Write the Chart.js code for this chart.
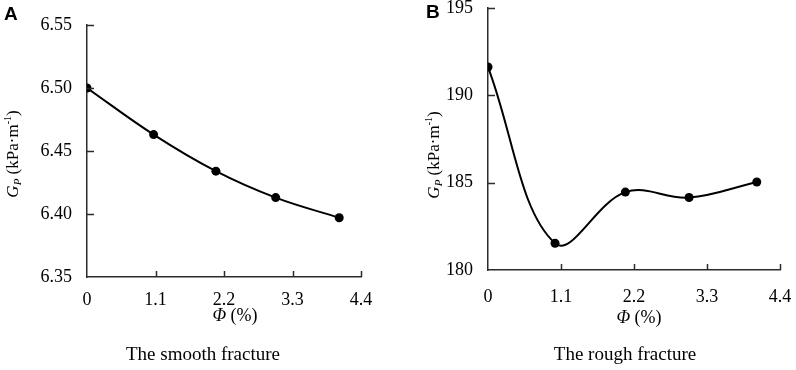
<!DOCTYPE html>
<html>
<head>
<meta charset="utf-8">
<script src="https://cdn.jsdelivr.net/npm/chart.js@4.4.1/dist/chart.umd.min.js"></script>
<style>
  body { margin: 0; background: #fff; }
  .panel { position: absolute; top: 0; width: 398px; height: 370px; }
</style>
</head>
<body>
<div class="panel" style="left:0"><canvas id="chartA" width="398" height="370"></canvas></div>
<div class="panel" style="left:398px"><canvas id="chartB" width="398" height="370"></canvas></div>
<script>
// x axis (porosity, %)
const xTicks = [0, 1.1, 2.2, 3.3, 4.4];

// A: smooth fracture
const smoothX = [0, 1.07, 2.07, 3.03, 4.05];
const smoothGp = [6.500, 6.463, 6.434, 6.413, 6.397];
const smoothTicks = [6.35, 6.40, 6.45, 6.50, 6.55];

// B: rough fracture
const roughX = [0, 1.01, 2.07, 3.03, 4.05];
const roughGp = [191.62, 181.53, 184.46, 184.15, 185.04];
const roughTicks = [180, 185, 190, 195];

const SERIF = "'Liberation Serif', 'Times New Roman', serif";
const AXIS = '#2b2b2b';

function drawRich(ctx, segs, cx, cy, rotate) {
    ctx.save();
    ctx.translate(cx, cy);
    if (rotate) ctx.rotate(-Math.PI / 2);
    ctx.textBaseline = 'alphabetic';
    ctx.textAlign = 'left';
    let total = 0;
    segs.forEach(s => { ctx.font = s.font; total += ctx.measureText(s.t).width; });
    let x = -total / 2;
    segs.forEach(s => {
        ctx.font = s.font;
        ctx.fillText(s.t, x, 6 + (s.dy || 0));
        x += ctx.measureText(s.t).width;
    });
    ctx.restore();
}

const panelText = {
    id: 'panelText',
    afterDraw(chart, args, o) {
        const ctx = chart.ctx;
        const area = chart.chartArea;
        ctx.save();
        ctx.fillStyle = '#000';

        // inner tick marks
        ctx.strokeStyle = AXIS;
        ctx.lineWidth = 1.5;
        const xs = chart.scales.x, ys = chart.scales.y;
        xs.ticks.forEach(t => {
            if (t.value === xs.min) return;
            const px = Math.round(xs.getPixelForValue(t.value)) + 0.5;
            ctx.beginPath(); ctx.moveTo(px, area.bottom); ctx.lineTo(px, area.bottom - 6); ctx.stroke();
        });
        ys.ticks.forEach(t => {
            if (t.value === ys.min) return;
            const py = Math.round(ys.getPixelForValue(t.value)) + 0.5;
            ctx.beginPath(); ctx.moveTo(area.left, py); ctx.lineTo(area.left + 7, py); ctx.stroke();
        });

        // panel letter
        ctx.font = "bold 19px 'Liberation Sans', Arial, sans-serif";
        ctx.textBaseline = 'top';
        ctx.fillText(o.letter, o.letterX, o.letterY);

        // y title
        drawRich(ctx, [
            { t: 'G', font: 'italic 17px ' + SERIF },
            { t: 'P', font: 'italic 11px ' + SERIF, dy: 3 },
            { t: ' (kPa·m', font: '17px ' + SERIF },
            { t: '-1', font: '10px ' + SERIF, dy: -7 },
            { t: ')', font: '17px ' + SERIF }
        ], o.yTitleX, o.yTitleY, true);

        // x title
        drawRich(ctx, [
            { t: 'Φ', font: 'italic 18px ' + SERIF },
            { t: ' (%)', font: '18px ' + SERIF }
        ], o.xTitleX, o.xTitleY, false);

        // caption
        drawRich(ctx, [{ t: o.caption, font: '19px ' + SERIF }], o.capX, o.capY, false);
        ctx.restore();
    }
};

function makeChart(id, xs, ys, yTicks, yDec, yMin, yMax, pad, xHeight, yWidth, xPad, text) {
    const ctx = document.getElementById(id).getContext('2d');
    return new Chart(ctx, {
        type: 'line',
        data: {
            datasets: [{
                data: xs.map((x, i) => ({ x: x, y: ys[i] })),
                borderColor: '#000',
                backgroundColor: '#000',
                borderWidth: 2,
                pointRadius: 4.5,
                pointBorderWidth: 0,
                tension: 0.38,
                fill: false
            }]
        },
        options: {
            responsive: false,
            animation: false,
            layout: { padding: pad },
            plugins: {
                legend: { display: false },
                tooltip: { enabled: false },
                panelText: text
            },
            scales: {
                x: {
                    type: 'linear',
                    min: 0,
                    max: 4.4,
                    afterBuildTicks: axis => { axis.ticks = xTicks.map(v => ({ value: v })); },
                    afterFit: s => { s.height = xHeight; s.paddingLeft = 0; s.paddingRight = 0; },
                    grid: { display: false },
                    border: { display: true, color: AXIS, width: 1.5 },
                    ticks: {
                        color: '#000',
                        padding: xPad,
                        maxRotation: 0,
                        font: { family: SERIF, size: 18 },
                        callback: v => v === 0 ? '0' : v.toFixed(1)
                    }
                },
                y: {
                    min: yMin,
                    max: yMax,
                    afterBuildTicks: axis => { axis.ticks = yTicks.map(v => ({ value: v })); },
                    afterFit: s => { s.width = yWidth; s.paddingTop = 0; s.paddingBottom = 0; },
                    grid: { display: false },
                    border: { display: true, color: AXIS, width: 1.5 },
                    ticks: {
                        color: '#000',
                        padding: 7,
                        font: { family: SERIF, size: 18 },
                        callback: v => v.toFixed(yDec)
                    }
                }
            }
        },
        plugins: [panelText]
    });
}

makeChart('chartA', smoothX, smoothGp, smoothTicks, 2, 6.35, 6.55,
    { top: 25, right: 37, bottom: 0, left: 0 }, 93, 87, 4,
    { letter: 'A', letterX: 4, letterY: 5, yTitleX: 12, yTitleY: 154,
      xTitleX: 235, xTitleY: 315, caption: 'The smooth fracture', capX: 203, capY: 354 });

makeChart('chartB', roughX, roughGp, roughTicks, 0, 180, 195,
    { top: 8, right: 16, bottom: 0, left: 0 }, 100, 90, 8,
    { letter: 'B', letterX: 28, letterY: 3, yTitleX: 35, yTitleY: 155,
      xTitleX: 241, xTitleY: 317, caption: 'The rough fracture', capX: 227, capY: 354 });
</script>
</body>
</html>
